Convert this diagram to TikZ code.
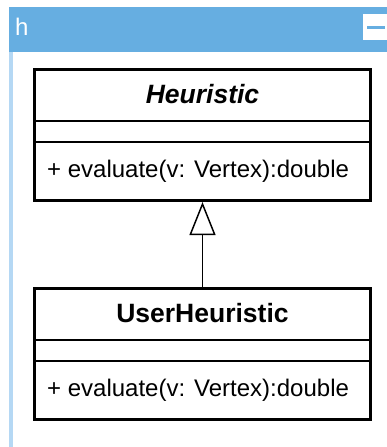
\documentclass[tikz,border=0pt]{standalone}
\usepackage{fontspec}
\setmainfont{Liberation Sans}
\usetikzlibrary{arrows.meta}
\definecolor{hdrblue}{HTML}{66AEE1}
\definecolor{edgeblue}{HTML}{B5D8F4}

\begin{document}
\begin{tikzpicture}[x=1pt,y=-1pt,
  classbox/.style={draw=black, line width=3pt, fill=white,
    minimum width=336pt, minimum height=131pt, inner sep=0pt},
  divider/.style={draw=black, line width=1.5pt},
  titletext/.style={font=\fontsize{26.5}{30}\selectfont\bfseries, anchor=base, inner sep=0pt},
  membertext/.style={font=\fontsize{24}{28}\selectfont, anchor=base west, inner sep=0pt},
  inherits/.style={draw=black, line width=1.5pt,
    -{Triangle[open, length=33pt, width=26pt, fill=white]}}]
\useasboundingbox (0,0) rectangle (387,447);
\fill[white] (0,0) rectangle (387,447);

% package frame: header bar and left edge
\fill[edgeblue] (9,52) rectangle (13,447);
\fill[hdrblue] (9,7) rectangle (387,52);
\node[font=\fontsize{24}{28}\selectfont, text=white, anchor=base west, inner sep=0pt] (pkgname) at (15,35) {h};
\fill[white] (363,14) rectangle (387,40);
\draw[hdrblue, line width=3pt] (367,27) -- (385,27);

% abstract class
\node[classbox] (heur) at (202.5,135) {};
\draw[divider] (heur.west |- 0,121) -- (heur.east |- 0,121);
\draw[divider] (heur.west |- 0,142) -- (heur.east |- 0,142);
\node[titletext, font=\fontsize{26.5}{30}\selectfont\bfseries\itshape] (heurname) at (202.5,103) {Heuristic};
\node[membertext] (heureval) at (47,177) {+ evaluate(v: Vertex):double};

% concrete subclass
\node[classbox] (user) at (202.5,354) {};
\draw[divider] (user.west |- 0,340) -- (user.east |- 0,340);
\draw[divider] (user.west |- 0,361) -- (user.east |- 0,361);
\node[titletext] (username) at (202.5,322) {UserHeuristic};
\node[membertext] (usereval) at (47,396) {+ evaluate(v: Vertex):double};

% generalization
\draw[inherits] (user.north) -- (heur.south);
\end{tikzpicture}
\end{document}
